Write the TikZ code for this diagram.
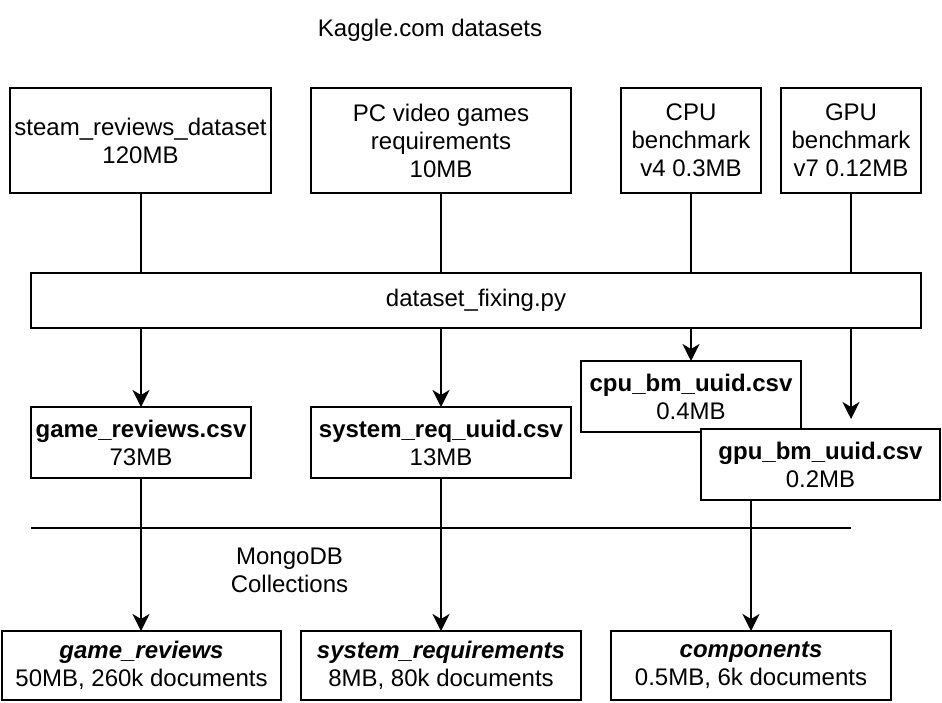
\documentclass[tikz,border=0pt]{standalone}
\usepackage{fontspec}
\setmainfont{Liberation Sans}
\usetikzlibrary{arrows.meta, positioning}

\begin{document}
\begin{tikzpicture}[x=1pt, y=-1pt,
        box/.style={draw, line width=2pt, inner sep=2pt, outer sep=0pt, align=center, font=\fontsize{24}{28}\selectfont},
        label/.style={align=center, font=\fontsize{24}{28}\selectfont},
        ln/.style={line width=2pt},
        arr/.style={line width=2pt, -{Stealth[length=17pt, width=17pt, inset=5pt]}}]
        \useasboundingbox (0,0) rectangle (942,702);
        \node[label] (title) at (430,30) {Kaggle.com datasets};
        \node[box, minimum width=261pt, minimum height=105pt] (src1) at (140.5,140.5) {steam\_reviews\_dataset\\120MB};
        \node[box, minimum width=260pt, minimum height=105pt, right=40pt of src1] (src2) {PC video games\\requirements\\10MB};
        \node[box, minimum width=140pt, minimum height=105pt, right=50pt of src2] (src3) {CPU\\benchmark\\v4 0.3MB};
        \node[box, minimum width=140pt, minimum height=105pt, right=20pt of src3] (src4) {GPU\\benchmark\\v7 0.12MB};
        \node[box, minimum width=890pt, minimum height=55pt] (fix) at (476,300.5) {dataset\_fixing.py};
        \node[box, minimum width=220pt, minimum height=71pt] (csv1) at (141,442.5) {\textbf{game\_reviews.csv}\\73MB};
        \node[box, minimum width=260pt, minimum height=71pt, right=60pt of csv1] (csv2) {\textbf{system\_req\_uuid.csv}\\13MB};
        \node[box, minimum width=220pt, minimum height=71pt] (cpucsv) at (691,396.5) {\textbf{cpu\_bm\_uuid.csv}\\0.4MB};
        \node[box, fill=white, minimum width=239pt, minimum height=71pt] (gpucsv) at (820.5,464.5) {\textbf{gpu\_bm\_uuid.csv}\\0.2MB};
        \coordinate (gpuend) at (851,419);
        \coordinate (sepL) at (31,528);
        \coordinate (sepR) at (851,528);
        \node[label] (mongo) at (289.5,570) {MongoDB\\Collections};
        \node[box, minimum width=279pt, minimum height=69pt] (col1) at (141.5,665.5) {\textbf{\textit{game\_reviews}}\\50MB, 260k documents};
        \node[box, minimum width=280pt, minimum height=69pt, right=20pt of col1] (col2) {\textbf{\textit{system\_requirements}}\\8MB, 80k documents};
        \node[box, minimum width=280pt, minimum height=69pt, right=30pt of col2] (col3) {\textbf{\textit{components}}\\0.5MB, 6k documents};
        \draw[ln] (src1.south) -- (src1.south |- fix.north);
        \draw[ln] (src2.south) -- (src2.south |- fix.north);
        \draw[ln] (src3.south) -- (src3.south |- fix.north);
        \draw[ln] (src4.south) -- (src4.south |- fix.north);
        \draw[arr] (fix.south -| csv1.north) -- (csv1.north);
        \draw[arr] (fix.south -| csv2.north) -- (csv2.north);
        \draw[arr] (fix.south -| cpucsv.north) -- (cpucsv.north);
        \draw[arr] (fix.south -| gpuend) -- (gpuend);
        \draw[ln] (sepL) -- (sepR);
        \draw[arr] (csv1.south) -- (csv1.south |- col1.north);
        \draw[arr] (csv2.south) -- (csv2.south |- col2.north);
        \draw[arr] (gpucsv.south -| col3.north) -- (col3.north);
\end{tikzpicture}
\end{document}
